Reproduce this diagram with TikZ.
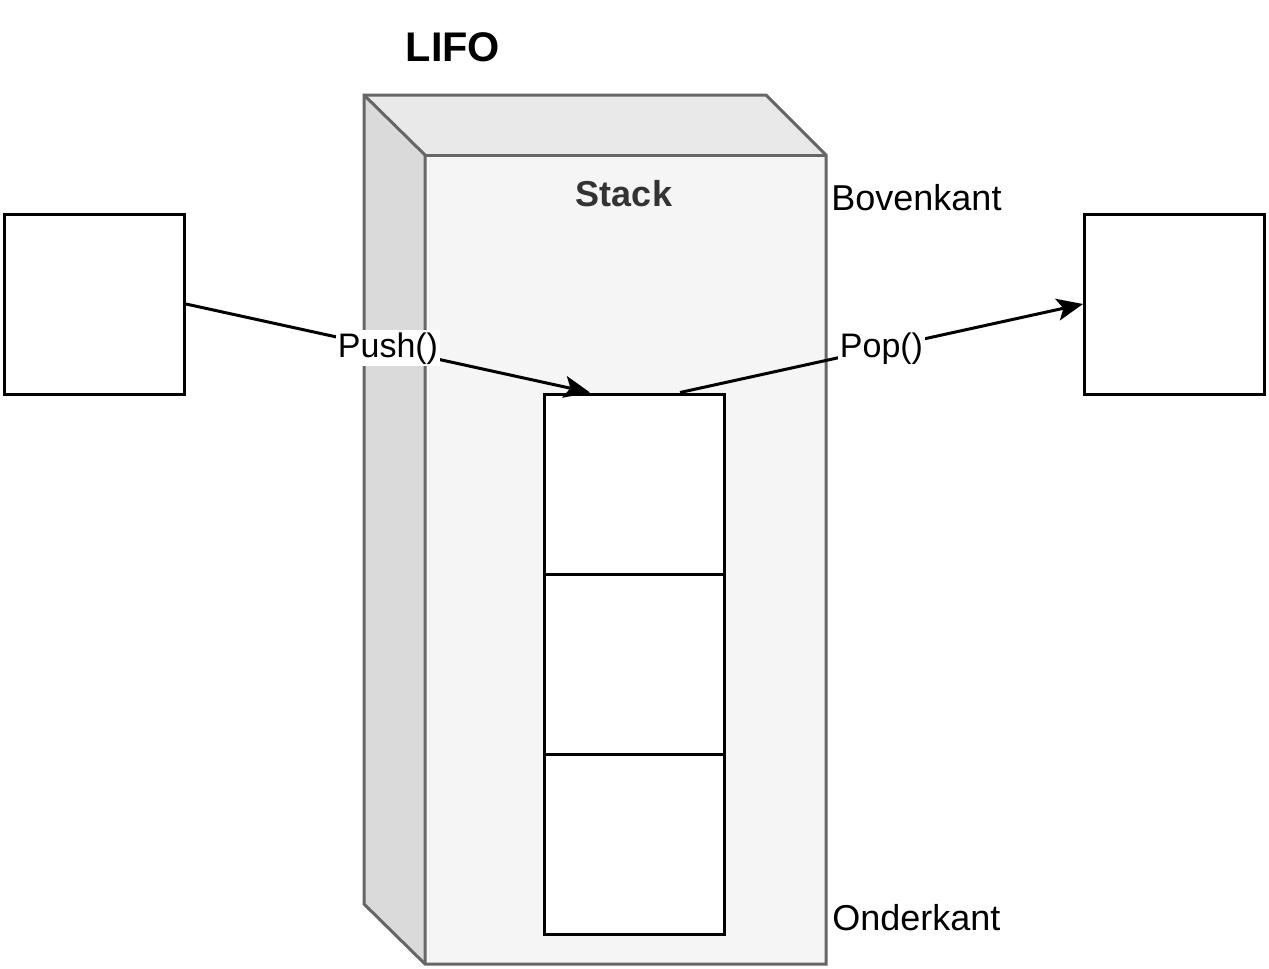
\documentclass[tikz,border=0pt]{standalone}
\usepackage{fontspec}
\setmainfont{Liberation Sans}
\usetikzlibrary{arrows.meta}
\definecolor{cubeline}{HTML}{666666}
\definecolor{cubefront}{HTML}{F5F5F5}
\definecolor{cubetop}{HTML}{E9E9E9}
\definecolor{cubeside}{HTML}{DADADA}
\definecolor{stacktext}{HTML}{333333}

\begin{document}
\begin{tikzpicture}[x=0.5pt,y=-0.5pt]
            \tikzset{cell/.style = {shape=rectangle,draw,line width=1.5pt,minimum size=90pt,inner sep=0pt,fill=white}}
            \tikzset{edge/.style = {-{Stealth[length=13pt,width=11pt,inset=3pt]},line width=1.5pt}}
            \tikzset{lbl/.style = {font=\fontsize{17}{20}\selectfont,inner sep=1pt}}
            \tikzset{side/.style = {font=\fontsize{18}{21}\selectfont,inner sep=1pt,anchor=west}}

            \useasboundingbox (0,0) rectangle (1269,969);

            % stack body
            \fill[cubeside] (364,95) -- (425,155) -- (425,964) -- (364,904) -- cycle;
            \fill[cubetop] (364,95) -- (766,95) -- (826,155) -- (425,155) -- cycle;
            \fill[cubefront] (425,155) rectangle (826,964);
            \draw[cubeline,line width=1.5pt] (364,95) -- (766,95) -- (826,155) -- (826,964) -- (425,964) -- (364,904) -- cycle;
            \draw[cubeline,line width=1.5pt] (364,95) -- (425,155) -- (425,964);
            \draw[cubeline,line width=1.5pt] (425,155) -- (826,155);

            \node[font=\bfseries\fontsize{20.7}{24}\selectfont] (lifo) at (453,47) {LIFO};
            \node[font=\bfseries\fontsize{18}{21}\selectfont,text=stacktext] (stacklbl) at (624,194) {Stack};
            \node[side] (bovenkant) at (829,198) {Bovenkant};
            \node[side] (onderkant) at (830,918) {Onderkant};

            \node[cell] (cell1) at (634,484) {};
            \node[cell] (cell2) at (634,664) {};
            \node[cell] (cell3) at (634,844) {};

            \node[cell] (in) at (94.5,304) {};
            \node[cell] (out) at (1174.5,304) {};

            \coordinate (pushend) at ([xshift=-22pt]cell1.north);
            \coordinate (popstart) at ([xshift=23pt]cell1.north);

            \draw[edge] (in.east) -- node[lbl,fill=white] {Push()} (pushend);
            \draw[edge] (popstart) -- node[lbl,fill=white] {Pop()} (out.west);
\end{tikzpicture}
\end{document}
